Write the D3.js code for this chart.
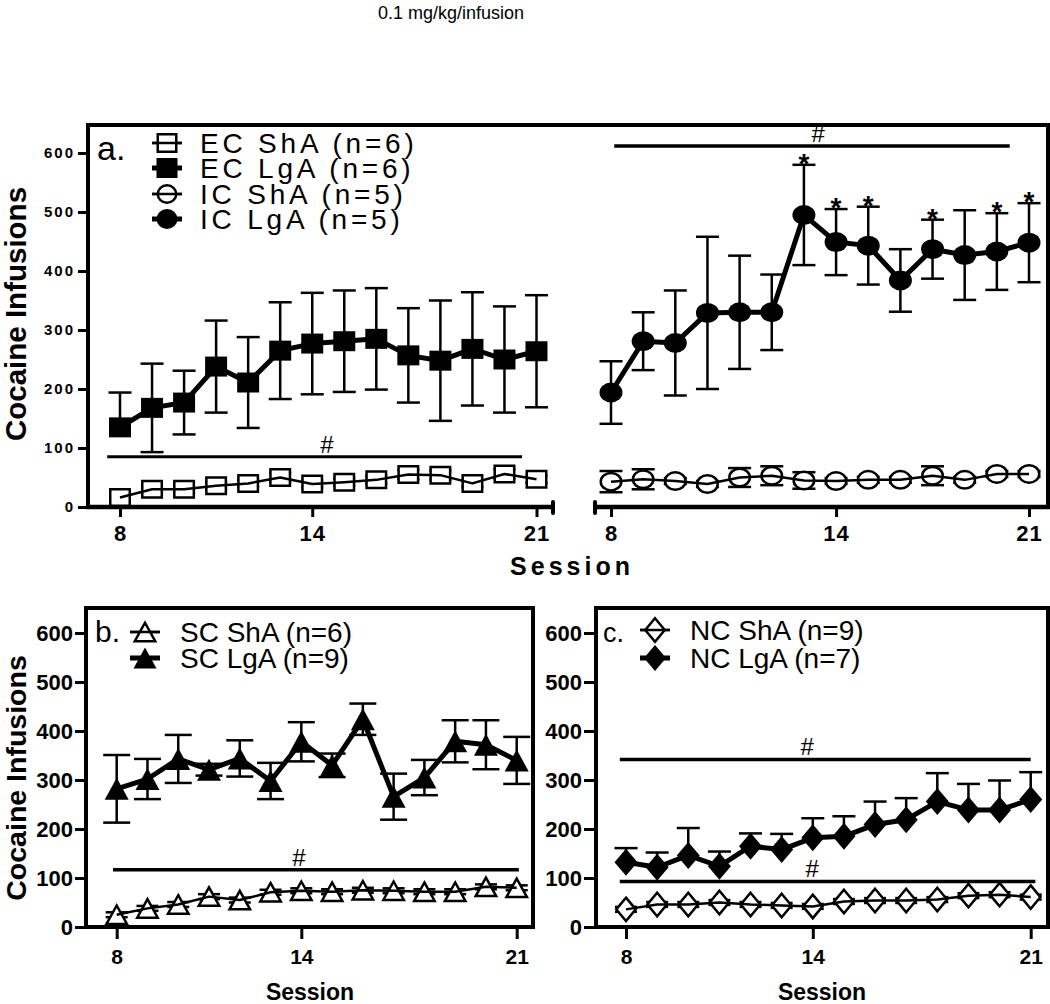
<!DOCTYPE html>
<html><head><meta charset="utf-8">
<script src="https://cdn.jsdelivr.net/npm/d3@7"></script>
<style>
body{margin:0;background:#fff;}
svg{display:block;font-family:"Liberation Sans",Arial,Helvetica,sans-serif;}
</style></head><body>
<svg id="chart" width="1050" height="1004"></svg>
<script>
// ---------------- DATA ----------------
const sessions = [8,9,10,11,12,13,14,15,16,17,18,19,20,21];
const yTickValues = [0,100,200,300,400,500,600];
const xTickLabels = ["8","14","21"];
const xTickSessions = [8,14,21];
const xTickSessionsAR = [8,15,21]; // where the reference places its 8/14/21 ticks in panel a (right)

// Panel a (left): EC
const ecShA = [16,30,30,36,40,50,39,42,46,55,54,40,56,47];
const ecShAErr = [5,6,5,6,6,8,6,6,6,8,8,6,8,6];
const ecLgA = [135,168,177,238,211,265,277,281,285,257,248,268,250,264];
const ecLgAErrUp = [59,75,54,78,77,82,86,86,86,80,102,96,90,95];
const ecLgAErrDown = [0,75,54,78,77,82,86,86,86,80,102,96,90,95];

// Panel a (right): IC
const icShA = [43,47,44,39,50,53,45,44,46,46,53,46,56,56];
const icShAErr = [18,17,5,5,16,16,14,5,5,5,16,5,5,5];
const icLgA = [194,281,278,329,330,330,495,449,443,384,437,427,433,448];
const icLgAErr = [53,49,89,129,96,64,85,56,66,53,50,76,65,67];
const icLgAStars = [14,15,16,18,20,21];

// Panel b: SC
const scShA = [25,38,46,62,55,71,74,72,75,74,72,72,82,80];
const scShAErr = [5,5,5,5,5,5,5,5,5,5,5,5,5,5];
const scLgA = [282,302,343,321,344,298,378,330,424,266,305,379,372,340];
const scLgAErr = [69,41,49,12,37,37,40,24,32,47,36,43,50,48];

// Panel c: NC
const ncShA = [36,46,46,50,46,44,42,52,54,54,56,64,66,61];
const ncShAErr = [5,5,5,5,5,5,5,5,5,5,5,5,5,5];
const ncLgA = [132,122,146,124,165,158,182,185,209,219,256,239,239,260];
const ncLgAErrUp = [29,30,56,30,26,32,40,41,47,44,58,53,60,56];

// Significance bars: [from session, to session, value, '#' session]
const hashAL = [7.6, 20.55, 85, 14.46];
const hashAR = [8.1, 20.4, 612, 14.44];
const hashB  = [7.88, 21.07, 117, 13.92];
const hashC1 = [7.8, 21.0, 342, 13.82];
const hashC2 = [7.8, 21.15, 93, 13.98];

const legendA = ["EC ShA (n=6)","EC LgA (n=6)","IC ShA (n=5)","IC LgA (n=5)"];
const legendB = ["SC ShA (n=6)","SC LgA (n=9)"];
const legendC = ["NC ShA (n=9)","NC LgA (n=7)"];

// ---------------- DRAWING ----------------
const svg = d3.select("#chart");
const FONT = '"Liberation Sans",Arial,Helvetica,sans-serif';

function markerPath(shape, w, h) {
  const hw = w/2, hh = h/2;
  if (shape === "square") return `M${-hw},${-hh}H${hw}V${hh}H${-hw}Z`;
  if (shape === "circle") return `M${-hw},0A${hw},${hh} 0 1,0 ${hw},0A${hw},${hh} 0 1,0 ${-hw},0Z`;
  if (shape === "triangle") return `M0,${-hh}L${hw},${hh}L${-hw},${hh}Z`;
  return `M0,${-hh}L${hw},0L0,${hh}L${-hw},0Z`;
}

function drawMarker(g, shape, filled, w, h, cx, cy) {
  const sw = 2.5;
  const ww = filled ? w : w - sw, hh = filled ? h : h - sw;
  g.append("path")
    .attr("d", markerPath(shape, ww, hh))
    .attr("transform", `translate(${cx},${cy})`)
    .attr("fill", filled ? "#000" : "#fff")
    .attr("stroke", filled ? "none" : "#000")
    .attr("stroke-width", filled ? 0 : sw);
}

function drawSeries(g, x, y, vals, errUp, errDown, o) {
  const eg = g.append("g").attr("stroke", "#000").attr("stroke-width", 2.5).attr("fill", "none");
  sessions.forEach((s, i) => {
    const cx = x(s), v = vals[i];
    const up = errUp ? errUp[i] : 0, dn = errDown ? errDown[i] : 0;
    if (up > 0) {
      eg.append("line").attr("x1", cx).attr("x2", cx).attr("y1", y(v)).attr("y2", y(v + up));
      eg.append("line").attr("x1", cx - o.cap/2).attr("x2", cx + o.cap/2).attr("y1", y(v + up)).attr("y2", y(v + up));
    }
    if (dn > 0) {
      eg.append("line").attr("x1", cx).attr("x2", cx).attr("y1", y(v)).attr("y2", y(v - dn));
      eg.append("line").attr("x1", cx - o.cap/2).attr("x2", cx + o.cap/2).attr("y1", y(v - dn)).attr("y2", y(v - dn));
    }
  });
  const line = d3.line().x((d, i) => x(sessions[i])).y(d => y(d));
  if (o.filled) {
    g.append("path").datum(vals).attr("d", line).attr("fill", "none").attr("stroke", "#000")
      .attr("stroke-width", o.lw).attr("stroke-linejoin", "round");
    sessions.forEach((s, i) => drawMarker(g, o.shape, true, o.w, o.h, x(s), y(vals[i])));
  } else {
    sessions.forEach((s, i) => drawMarker(g, o.shape, false, o.w, o.h, x(s), y(vals[i])));
    g.append("path").datum(vals).attr("d", line).attr("fill", "none").attr("stroke", "#000")
      .attr("stroke-width", o.lw).attr("stroke-linejoin", "round");
  }
}

function styleAxis(g, fs, ls) {
  g.attr("font-family", FONT);
  g.select(".domain").remove();
  g.selectAll(".tick line").attr("stroke", "#000").attr("stroke-width", 3);
  g.selectAll(".tick text").attr("fill", "#000").attr("font-size", fs)
    .attr("font-weight", "bold").attr("letter-spacing", ls || 0);
}

function hashBar(g, x, y, h, lw, fs) {
  g.append("line").attr("x1", x(h[0])).attr("x2", x(h[1])).attr("y1", y(h[2])).attr("y2", y(h[2]))
    .attr("stroke", "#000").attr("stroke-width", lw);
  g.append("text").attr("x", x(h[3])).attr("y", y(h[2]) - 4).attr("text-anchor", "middle")
    .attr("font-size", fs).text("#");
}

function legend(g, items, shapes, fills, lx, ys, tx, fs, ls, w, h) {
  items.forEach((t, i) => {
    g.append("line").attr("x1", lx - 15).attr("x2", lx + 15).attr("y1", ys[i]).attr("y2", ys[i])
      .attr("stroke", "#000").attr("stroke-width", fills[i] ? 5 : 2.5);
    drawMarker(g, shapes[i], fills[i], w, h, lx, ys[i]);
    if (!fills[i]) g.append("line").attr("x1", lx - 15).attr("x2", lx + 15).attr("y1", ys[i]).attr("y2", ys[i])
      .attr("stroke", "#000").attr("stroke-width", 2.5);
    g.append("text").attr("x", tx).attr("y", ys[i] + 10).attr("font-size", fs)
      .attr("letter-spacing", ls).text(t);
  });
}

// Title
svg.append("text").attr("x", 378).attr("y", 19).attr("font-size", 18).text("0.1 mg/kg/infusion");

// ===== Panel a =====
const gA = svg.append("g");
const aY = d3.scaleLinear().domain([0, 600]).range([507, 153]);
const aXL = d3.scaleLinear().domain([8, 21]).range([120, 536.5]);
const aXR = d3.scaleLinear().domain([8, 21]).range([611, 1029]);

gA.append("path").attr("d", "M88,507V125H1048V507").attr("fill", "none").attr("stroke", "#000")
  .attr("stroke-width", 4).attr("stroke-linejoin", "miter");
gA.append("line").attr("x1", 86).attr("x2", 553).attr("y1", 507).attr("y2", 507).attr("stroke", "#000").attr("stroke-width", 4.5);
gA.append("line").attr("x1", 595).attr("x2", 1050).attr("y1", 507).attr("y2", 507).attr("stroke", "#000").attr("stroke-width", 4.5);
[553, 595].forEach(xx => gA.append("line").attr("x1", xx).attr("x2", xx).attr("y1", 502).attr("y2", 513)
  .attr("stroke", "#000").attr("stroke-width", 4).attr("stroke-linecap", "round"));

gA.append("g").attr("transform", "translate(88,0)")
  .call(d3.axisLeft(aY).tickValues(yTickValues).tickSize(10).tickSizeOuter(0).tickPadding(3))
  .call(g => styleAxis(g, 15, 2));
gA.append("g").attr("transform", "translate(0,507)")
  .call(d3.axisBottom(aXL).tickValues(xTickSessions).tickFormat((d, i) => xTickLabels[i]).tickSize(10).tickSizeOuter(0).tickPadding(8))
  .call(g => styleAxis(g, 22, 1));
gA.append("g").attr("transform", "translate(0,507)")
  .call(d3.axisBottom(aXR).tickValues(xTickSessionsAR).tickFormat((d, i) => xTickLabels[i]).tickSize(10).tickSizeOuter(0).tickPadding(8))
  .call(g => styleAxis(g, 22, 1));

drawSeries(gA, aXL, aY, ecShA, ecShAErr, ecShAErr, {shape: "square", filled: false, w: 22, h: 19, lw: 2.5, cap: 22});
drawSeries(gA, aXL, aY, ecLgA, ecLgAErrUp, ecLgAErrDown, {shape: "square", filled: true, w: 22, h: 20, lw: 5, cap: 23});
drawSeries(gA, aXR, aY, icShA, icShAErr, icShAErr, {shape: "circle", filled: false, w: 23, h: 20, lw: 2.5, cap: 23});
drawSeries(gA, aXR, aY, icLgA, icLgAErr, icLgAErr, {shape: "circle", filled: true, w: 23, h: 20, lw: 5, cap: 23});

icLgAStars.forEach(s => {
  const i = sessions.indexOf(s);
  gA.append("text").attr("x", aXR(s)).attr("y", aY(icLgA[i] + icLgAErr[i]) + 8)
    .attr("text-anchor", "middle").attr("font-size", 28).attr("font-weight", "bold").text("*");
});
hashBar(gA, aXL, aY, hashAL, 3, 24);
hashBar(gA, aXR, aY, hashAR, 3.5, 24);

gA.append("text").attr("x", 97).attr("y", 160).attr("font-size", 34).text("a.");
legend(gA, legendA, ["square", "square", "circle", "circle"], [false, true, false, true],
  167, [143, 168, 194, 219], 200, 28, 3.8, 21, 20);

gA.append("text").attr("transform", "translate(26,314) rotate(-90)").attr("text-anchor", "middle")
  .attr("font-size", 29.5).attr("font-weight", "bold").text("Cocaine Infusions");
gA.append("text").attr("x", 572).attr("y", 575).attr("text-anchor", "middle")
  .attr("font-size", 25).attr("font-weight", "bold").attr("letter-spacing", 4).text("Session");

// ===== Panel b =====
const gB = svg.append("g");
const bY = d3.scaleLinear().domain([0, 600]).range([927, 633]);
const bX = d3.scaleLinear().domain([8, 21]).range([116.7, 516.7]);
gB.append("rect").attr("x", 86).attr("y", 608).attr("width", 447).attr("height", 319)
  .attr("fill", "none").attr("stroke", "#000").attr("stroke-width", 4);
gB.append("g").attr("transform", "translate(86,0)")
  .call(d3.axisLeft(bY).tickValues(yTickValues).tickSize(11).tickSizeOuter(0).tickPadding(2))
  .call(g => styleAxis(g, 22, 0));
gB.append("g").attr("transform", "translate(0,927)")
  .call(d3.axisBottom(bX).tickValues(xTickSessions).tickFormat((d, i) => xTickLabels[i]).tickSize(12).tickSizeOuter(0).tickPadding(10))
  .call(g => styleAxis(g, 21, 0));
drawSeries(gB, bX, bY, scShA, scShAErr, scShAErr, {shape: "triangle", filled: false, w: 23, h: 21, lw: 2.5, cap: 22});
drawSeries(gB, bX, bY, scLgA, scLgAErr, scLgAErr, {shape: "triangle", filled: true, w: 24, h: 22, lw: 5, cap: 27});
hashBar(gB, bX, bY, hashB, 3.5, 24);
gB.append("text").attr("x", 95).attr("y", 642).attr("font-size", 30).text("b.");
legend(gB, legendB, ["triangle", "triangle"], [false, true], 145, [632, 658], 180, 28, 0, 23, 21);
gB.append("text").attr("transform", "translate(26,778) rotate(-90)").attr("text-anchor", "middle")
  .attr("font-size", 28.5).attr("font-weight", "bold").text("Cocaine Infusions");
gB.append("text").attr("x", 310).attr("y", 1000).attr("text-anchor", "middle")
  .attr("font-size", 23).attr("font-weight", "bold").text("Session");

// ===== Panel c =====
const gC = svg.append("g");
const cY = d3.scaleLinear().domain([0, 600]).range([927, 633]);
const cX = d3.scaleLinear().domain([8, 21]).range([626, 1030.7]);
gC.append("rect").attr("x", 596).attr("y", 608).attr("width", 452).attr("height", 319)
  .attr("fill", "none").attr("stroke", "#000").attr("stroke-width", 4);
gC.append("g").attr("transform", "translate(596,0)")
  .call(d3.axisLeft(cY).tickValues(yTickValues).tickSize(12).tickSizeOuter(0).tickPadding(2))
  .call(g => styleAxis(g, 22, 0));
gC.append("g").attr("transform", "translate(0,927)")
  .call(d3.axisBottom(cX).tickValues(xTickSessions).tickFormat((d, i) => xTickLabels[i]).tickSize(12).tickSizeOuter(0).tickPadding(10))
  .call(g => styleAxis(g, 21, 0));
drawSeries(gC, cX, cY, ncShA, ncShAErr, ncShAErr, {shape: "diamond", filled: false, w: 22, h: 26, lw: 2.5, cap: 22});
drawSeries(gC, cX, cY, ncLgA, ncLgAErrUp, null, {shape: "diamond", filled: true, w: 23, h: 27, lw: 5, cap: 23});
hashBar(gC, cX, cY, hashC1, 3.5, 24);
hashBar(gC, cX, cY, hashC2, 3.5, 24);
gC.append("text").attr("x", 603).attr("y", 642).attr("font-size", 27).text("c.");
legend(gC, legendC, ["diamond", "diamond"], [false, true], 655, [630, 658], 690, 28, 0, 22, 26);
gC.append("text").attr("x", 822).attr("y", 1000).attr("text-anchor", "middle")
  .attr("font-size", 23).attr("font-weight", "bold").text("Session");
</script>
</body></html>
